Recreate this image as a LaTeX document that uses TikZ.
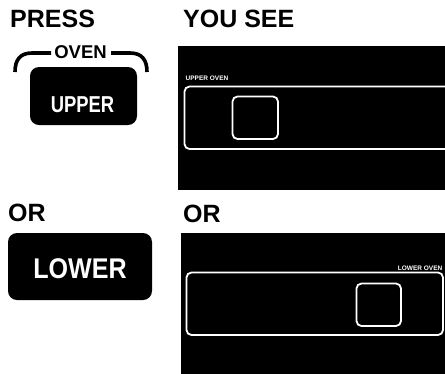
\documentclass[tikz,border=0pt]{standalone}
\usepackage{fontspec}
\setmainfont{Liberation Sans}
\begin{document}
\begin{tikzpicture}[x=1pt,y=-1pt,
  head/.style={font=\fontsize{25}{30}\selectfont\bfseries, inner sep=0pt, anchor=base west},
  panel/.style={fill=black},
  window/.style={draw=white, line width=1.8pt, rounded corners=5pt},
  tiny/.style={text=white, font=\fontsize{6.5}{7}\selectfont\bfseries, inner sep=0pt},
  keybox/.style={fill=black, rounded corners=9pt},
  keytext/.style={text=white, font=\bfseries, inner sep=0pt, transform shape},
  bracket/.style={line width=3.6pt, line cap=butt}]
\useasboundingbox (0,0) rectangle (445,373);
\clip (0,0) rectangle (445,373);

% headings
\node[head] (press) at (10,27) {PRESS};
\node[head] (yousee) at (183,27) {YOU SEE};
\node[head] (or1) at (8,221) {OR};
\node[head] (or2) at (183,222) {OR};

% upper key with OVEN bracket
\node[font=\fontsize{18.5}{20}\selectfont\bfseries, inner sep=0pt, anchor=base] (oven) at (80.5,58) {OVEN};
\draw[bracket] (15,72) .. controls (15,60) and (20,53) .. (32,53) -- (51,53);
\draw[bracket] (111,53) -- (130,53) .. controls (142,53) and (147,60) .. (147,72);
\fill[keybox] (30,67) rectangle (137,125);
\node[keytext, font=\fontsize{23}{25}\selectfont\bfseries, xscale=0.8, anchor=base] (upper) at (82.5,112.5) {UPPER};

% lower key
\fill[keybox] (8,233) rectangle (152,300);
\node[keytext, font=\fontsize{28.5}{30}\selectfont\bfseries, xscale=0.88, anchor=base] (lower) at (80,278) {LOWER};

% upper display
\fill[panel] (178,46) rectangle (450,190);
\draw[window] (184.5,86.5) rectangle (460,149);
\draw[window] (232.5,96.5) rectangle (278,139);
\node[tiny, anchor=base west] (uplabel) at (185.5,80.5) {UPPER OVEN};

% lower display
\fill[panel] (181,233) rectangle (450,380);
\draw[window] (186.5,272.5) rectangle (443,335);
\draw[window] (356.5,283.5) rectangle (401,326);
\node[tiny, anchor=base east] (lowlabel) at (442.5,270) {LOWER OVEN};
\end{tikzpicture}
\end{document}
